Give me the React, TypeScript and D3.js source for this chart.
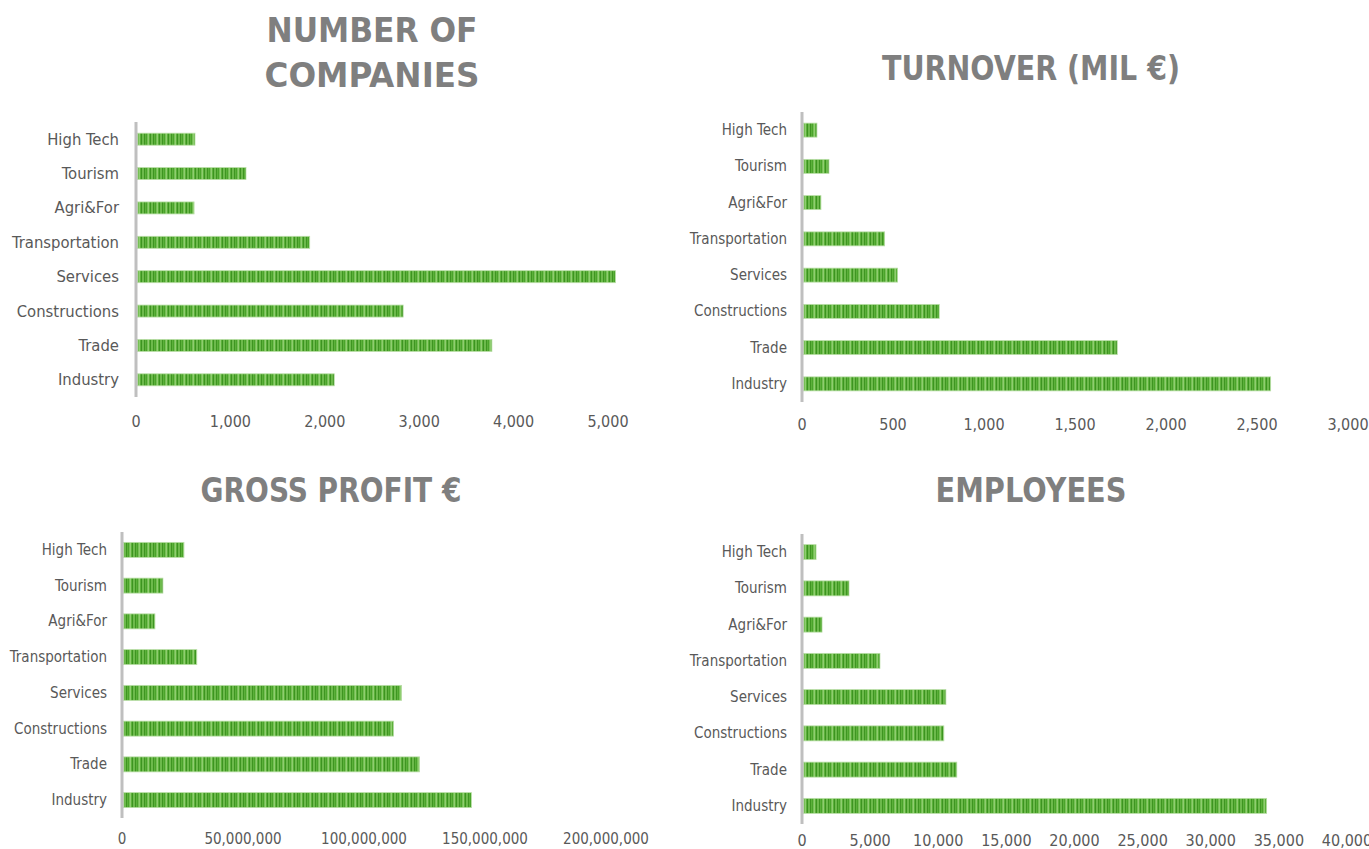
import React from 'react';
import * as d3 from 'd3';

// sectors listed bottom to top, as in the reference
const sectors = ['Industry', 'Trade', 'Constructions', 'Services', 'Transportation', 'Agri&For', 'Tourism', 'High Tech'];

const companies = [2100, 3770, 2830, 5080, 1840, 615, 1165, 625];
const turnover = [2575, 1732, 754, 525, 454, 104, 148, 82];
const grossProfit = [144400000, 122900000, 112200000, 115500000, 30900000, 13600000, 16900000, 25600000];
const employees = [34100, 11360, 10410, 10560, 5720, 1470, 3450, 1030];

const companiesTicks = [0, 1000, 2000, 3000, 4000, 5000];
const turnoverTicks = [0, 500, 1000, 1500, 2000, 2500, 3000];
const profitTicks = [0, 50000000, 100000000, 150000000, 200000000];
const employeesTicks = [0, 5000, 10000, 15000, 20000, 25000, 30000, 35000, 40000];

const FONT = '"Liberation Sans Narrow", "DejaVu Sans Condensed", "Arial Narrow", sans-serif';
const fmt = d3.format(',');

type Panel = {
  title: string[];
  titleW: number[];
  titleX: number;
  titleY: number;
  values: number[];
  ticks: number[];
  x0: number;
  x1: number;
  y0: number;
  y1: number;
  barH: number;
  tickY: number;
  labelGap: number;
  labelSize: number;
  tickSize: number;
};

const panels: Panel[] = [
  { title: ['NUMBER OF', 'COMPANIES'], titleW: [211, 215], titleX: 372, titleY: 30, values: companies, ticks: companiesTicks,
    x0: 136, x1: 608, y0: 122, y1: 397, barH: 12, tickY: 421, labelGap: 17, labelSize: 16.5, tickSize: 16 },
  { title: ['TURNOVER (MIL €)'], titleW: [298], titleX: 1031, titleY: 68, values: turnover, ticks: turnoverTicks,
    x0: 802, x1: 1348, y0: 112, y1: 402, barH: 14, tickY: 424, labelGap: 15, labelSize: 15, tickSize: 16 },
  { title: ['GROSS PROFIT €'], titleW: [261], titleX: 331, titleY: 490, values: grossProfit, ticks: profitTicks,
    x0: 122, x1: 606, y0: 532, y1: 818, barH: 15, tickY: 839, labelGap: 15, labelSize: 15, tickSize: 15 },
  { title: ['EMPLOYEES'], titleW: [191], titleX: 1031, titleY: 490, values: employees, ticks: employeesTicks,
    x0: 802, x1: 1347, y0: 534, y1: 824, barH: 15, tickY: 840, labelGap: 15, labelSize: 15, tickSize: 16 },
];

function BarPanel({ p }: { p: Panel }) {
  const x = d3.scaleLinear()
    .domain([0, d3.max(p.ticks) as number])
    .range([p.x0, p.x1]);
  const y = d3.scaleBand()
    .domain(sectors.slice().reverse())
    .range([p.y0, p.y1]);

  return (
    <g>
      {p.title.map((line, i) => (
        <text key={line} x={p.titleX - p.titleW[i] / 2} y={p.titleY + i * 45} dominantBaseline="central"
          textLength={p.titleW[i]} lengthAdjust="spacingAndGlyphs"
          fontFamily={FONT} fontWeight="bold" fontSize={34} fill="#7f7f7f">
          {line}
        </text>
      ))}

      {sectors.map((s, i) => {
        const cy = (y(s) as number) + y.bandwidth() / 2;
        return (
          <g key={s}>
            <rect x={x(0) + 1.5} y={cy - p.barH / 2} width={x(p.values[i]) - x(0) - 1.5} height={p.barH}
              fill="url(#stripes)" stroke="#b9dea6" strokeWidth={0.8} />
            <text x={p.x0 - p.labelGap} y={cy} textAnchor="end" dominantBaseline="central"
              fontFamily={FONT} fontSize={p.labelSize} fill="#595959">
              {s}
            </text>
          </g>
        );
      })}

      <line x1={p.x0} x2={p.x0} y1={p.y0} y2={p.y1} stroke="#bfbfbf" strokeWidth={3} />

      {p.ticks.map(t => (
        <text key={t} x={x(t)} y={p.tickY} textAnchor="middle" dominantBaseline="central"
          fontFamily={FONT} fontSize={p.tickSize} fill="#595959">
          {fmt(t)}
        </text>
      ))}
    </g>
  );
}

export default function App() {
  return (
    <svg width={1369} height={849} style={{ position: 'absolute', left: 0, top: 0, background: '#fff' }}>
      <defs>
        <pattern id="stripes" patternUnits="userSpaceOnUse" width={9} height={20}>
          <rect width={9} height={20} fill="#5cb03a" />
          <rect x={0} width={1} height={20} fill="#3e9521" />
          <rect x={2} width={1} height={20} fill="#4aa42b" />
          <rect x={3.5} width={1.5} height={20} fill="#8fce70" />
          <rect x={6} width={1} height={20} fill="#3c9420" />
          <rect x={7.5} width={1} height={20} fill="#7dc45e" />
        </pattern>
      </defs>
      {panels.map((p, i) => <BarPanel key={i} p={p} />)}
    </svg>
  );
}
